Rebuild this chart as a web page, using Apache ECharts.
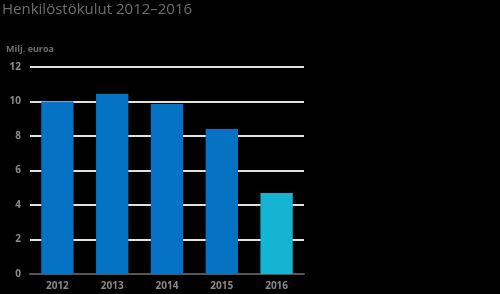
<!DOCTYPE html>
<html><head><meta charset="utf-8">
<script src="https://cdn.jsdelivr.net/npm/echarts@6/dist/echarts.min.js"></script>
<style>html,body{margin:0;padding:0;background:#000;}#c{width:500px;height:294px;}</style>
</head><body><div id="c"></div>
<script>
const categories = ['2012','2013','2014','2015','2016'];
const values = [10.0, 10.45, 9.85, 8.4, 4.7];
const colors = ['#0572c4','#0572c4','#0572c4','#0572c4','#15b4d3'];
const yTicks = [0,2,4,6,8,10,12];

const chart = echarts.init(document.getElementById('c'), null, {renderer:'canvas'});
chart.setOption({
  backgroundColor: '#000',
  animation: false,
  title: [
    {text: 'Henkilöstökulut 2012–2016', left: -3, top: -3,
     textStyle: {color: '#6e6e6e', fontSize: 15, fontWeight: 'normal', fontFamily: 'Open Sans'}},
    {text: 'Milj. euroa', left: 1, top: 40,
     textStyle: {color: '#6e6e6e', fontSize: 9, fontWeight: 'bold', fontFamily: 'Open Sans'}}
  ],
  grid: {left: 30, right: 196, top: 67, bottom: 20, containLabel: false},
  xAxis: {
    type: 'category', data: categories,
    axisLine: {lineStyle: {color: '#555', width: 2}},
    axisTick: {show: false},
    axisLabel: {color: '#8a8a8a', fontSize: 10, fontWeight: 'bold', fontFamily: 'Open Sans', margin: 7}
  },
  yAxis: {
    type: 'value', min: 0, max: 12, interval: 2,
    axisLine: {show: false}, axisTick: {show: false},
    axisLabel: {color: '#8a8a8a', fontSize: 10, fontWeight: 'bold', fontFamily: 'Open Sans', margin: 9,
      formatter: v => yTicks.includes(v) ? String(v) : ''},
    splitLine: {lineStyle: {color: '#e0e0e0', width: 2}}
  },
  series: [{
    type: 'bar', barWidth: '59%',
    data: values.map((v,i) => ({value: v, itemStyle: {color: colors[i]}}))
  }]
});
</script></body></html>
